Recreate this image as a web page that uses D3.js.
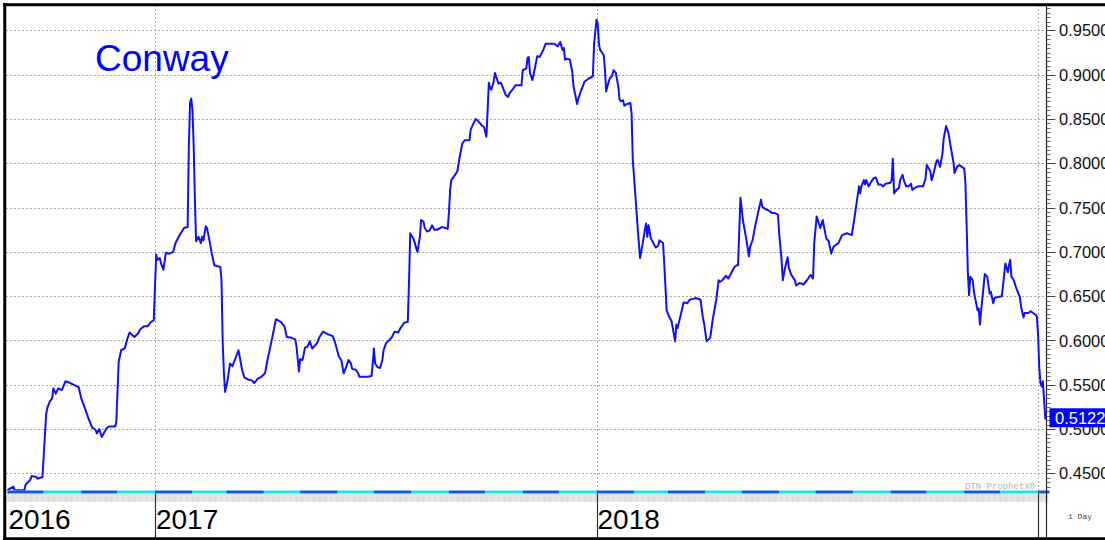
<!DOCTYPE html>
<html>
<head>
<meta charset="utf-8">
<script src="https://cdn.jsdelivr.net/npm/d3@7"></script>
<style>
  body { margin: 0; background: #fff; }
  svg { display: block; font-family: Arial, "Liberation Sans", sans-serif; }
</style>
</head>
<body>
<script>
// daily closes
var dates = [
  "2016-09-01","2016-09-06","2016-09-07","2016-09-15","2016-09-16","2016-09-20","2016-09-21","2016-09-25","2016-09-26","2016-09-30",
  "2016-10-03","2016-10-04","2016-10-06","2016-10-08","2016-10-09","2016-10-11","2016-10-13","2016-10-16","2016-10-19","2016-10-23",
  "2016-10-26","2016-10-30","2016-11-01","2016-11-04","2016-11-07","2016-11-10","2016-11-13","2016-11-14","2016-11-16","2016-11-18",
  "2016-11-22","2016-11-24","2016-11-29","2016-11-30","2016-12-02","2016-12-04","2016-12-07","2016-12-09","2016-12-11","2016-12-15",
  "2016-12-18","2016-12-20","2016-12-23","2016-12-26","2016-12-28","2016-12-31","2017-01-02","2017-01-03","2017-01-05","2017-01-06",
  "2017-01-08","2017-01-10","2017-01-13","2017-01-16","2017-01-18","2017-01-21","2017-01-25","2017-01-28","2017-01-29","2017-01-30",
  "2017-01-31","2017-02-01","2017-02-02","2017-02-03","2017-02-04","2017-02-06","2017-02-08","2017-02-09","2017-02-10","2017-02-12",
  "2017-02-13","2017-02-15","2017-02-17","2017-02-19","2017-02-24","2017-02-25","2017-02-26","2017-02-27","2017-02-28","2017-03-02",
  "2017-03-04","2017-03-06","2017-03-08","2017-03-11","2017-03-12","2017-03-14","2017-03-16","2017-03-19","2017-03-22","2017-03-24",
  "2017-03-27","2017-03-30","2017-04-02","2017-04-04","2017-04-07","2017-04-11","2017-04-15","2017-04-18","2017-04-20","2017-04-24",
  "2017-04-27","2017-04-28","2017-04-30","2017-05-01","2017-05-03","2017-05-05","2017-05-07","2017-05-09","2017-05-11","2017-05-15",
  "2017-05-17","2017-05-20","2017-05-24","2017-05-28","2017-05-30","2017-06-02","2017-06-04","2017-06-06","2017-06-08","2017-06-10",
  "2017-06-12","2017-06-13","2017-06-16","2017-06-18","2017-06-19","2017-06-22","2017-06-26","2017-06-29","2017-06-30","2017-07-01",
  "2017-07-02","2017-07-04","2017-07-06","2017-07-08","2017-07-09","2017-07-11","2017-07-14","2017-07-16","2017-07-18","2017-07-21",
  "2017-07-23","2017-07-26","2017-07-29","2017-07-30","2017-07-31","2017-08-03","2017-08-05","2017-08-06","2017-08-08","2017-08-09",
  "2017-08-11","2017-08-12","2017-08-14","2017-08-16","2017-08-18","2017-08-20","2017-08-22","2017-08-25","2017-08-26","2017-08-29",
  "2017-08-31","2017-09-01","2017-09-02","2017-09-03","2017-09-06","2017-09-08","2017-09-10","2017-09-12","2017-09-14","2017-09-16",
  "2017-09-18","2017-09-19","2017-09-22","2017-09-23","2017-09-25","2017-09-28","2017-09-30","2017-10-02","2017-10-03","2017-10-04",
  "2017-10-05","2017-10-06","2017-10-08","2017-10-09","2017-10-10","2017-10-12","2017-10-14","2017-10-16","2017-10-18","2017-10-20",
  "2017-10-21","2017-10-24","2017-10-26","2017-10-31","2017-11-01","2017-11-04","2017-11-05","2017-11-06","2017-11-07","2017-11-09",
  "2017-11-11","2017-11-13","2017-11-15","2017-11-18","2017-11-20","2017-11-24","2017-11-27","2017-11-30","2017-12-02","2017-12-04",
  "2017-12-05","2017-12-06","2017-12-08","2017-12-10","2017-12-12","2017-12-13","2017-12-16","2017-12-17","2017-12-19","2017-12-22",
  "2017-12-26","2017-12-29","2017-12-30","2018-01-01","2018-01-02","2018-01-03","2018-01-04","2018-01-07","2018-01-08","2018-01-09",
  "2018-01-10","2018-01-12","2018-01-14","2018-01-15","2018-01-17","2018-01-19","2018-01-20","2018-01-21","2018-01-23","2018-01-24",
  "2018-01-26","2018-01-29","2018-01-30","2018-01-31","2018-02-02","2018-02-04","2018-02-06","2018-02-08","2018-02-10","2018-02-11",
  "2018-02-12","2018-02-13","2018-02-15","2018-02-19","2018-02-21","2018-02-22","2018-02-25","2018-02-26","2018-02-28","2018-03-02",
  "2018-03-04","2018-03-07","2018-03-08","2018-03-09","2018-03-12","2018-03-14","2018-03-17","2018-03-19","2018-03-22","2018-03-24",
  "2018-03-28","2018-03-30","2018-03-31","2018-04-02","2018-04-05","2018-04-07","2018-04-10","2018-04-12","2018-04-13","2018-04-15",
  "2018-04-18","2018-04-20","2018-04-22","2018-04-25","2018-04-27","2018-04-28","2018-04-30","2018-05-01","2018-05-02","2018-05-05",
  "2018-05-07","2018-05-08","2018-05-10","2018-05-12","2018-05-15","2018-05-17","2018-05-18","2018-05-21","2018-05-23","2018-05-26",
  "2018-05-28","2018-05-31","2018-06-01","2018-06-03","2018-06-04","2018-06-06","2018-06-08","2018-06-09","2018-06-11","2018-06-14",
  "2018-06-15","2018-06-18","2018-06-21","2018-06-24","2018-06-27","2018-06-29","2018-06-30","2018-07-02","2018-07-05","2018-07-07",
  "2018-07-10","2018-07-12","2018-07-14","2018-07-16","2018-07-20","2018-07-23","2018-07-27","2018-07-31","2018-08-02","2018-08-04",
  "2018-08-06","2018-08-07","2018-08-08","2018-08-10","2018-08-11","2018-08-12","2018-08-14","2018-08-16","2018-08-18","2018-08-20",
  "2018-08-22","2018-08-24","2018-08-26","2018-08-28","2018-09-01","2018-09-02","2018-09-03","2018-09-04","2018-09-06","2018-09-08",
  "2018-09-09","2018-09-11","2018-09-12","2018-09-14","2018-09-16","2018-09-18","2018-09-19","2018-09-22","2018-09-24","2018-09-28",
  "2018-09-30","2018-10-01","2018-10-04","2018-10-05","2018-10-06","2018-10-09","2018-10-10","2018-10-12","2018-10-14","2018-10-15",
  "2018-10-17","2018-10-19","2018-10-21","2018-10-23","2018-10-24","2018-10-26","2018-10-28","2018-10-30","2018-11-01","2018-11-02",
  "2018-11-03","2018-11-04","2018-11-05","2018-11-06","2018-11-08","2018-11-09","2018-11-12","2018-11-13","2018-11-14","2018-11-15",
  "2018-11-17","2018-11-18","2018-11-20","2018-11-22","2018-11-23","2018-11-25","2018-11-26","2018-11-29","2018-12-02","2018-12-03",
  "2018-12-05","2018-12-07","2018-12-08","2018-12-09","2018-12-10","2018-12-12","2018-12-14","2018-12-17","2018-12-18","2018-12-20",
  "2018-12-21","2018-12-24","2018-12-26","2018-12-30","2018-12-31","2019-01-01","2019-01-02","2019-01-03","2019-01-04","2019-01-05",
  "2019-01-06","2019-01-07","2019-01-08"
];
var prices = [
  0.431,0.435,0.431,0.431,0.437,0.443,0.447,0.446,0.444,0.446,
  0.516,0.524,0.531,0.535,0.546,0.540,0.546,0.544,0.554,0.552,
  0.550,0.547,0.535,0.524,0.512,0.502,0.499,0.495,0.500,0.491,
  0.501,0.503,0.503,0.507,0.576,0.589,0.591,0.601,0.609,0.604,
  0.608,0.613,0.616,0.616,0.620,0.623,0.697,0.691,0.693,0.687,
  0.680,0.699,0.698,0.700,0.710,0.718,0.727,0.728,0.819,0.868,
  0.873,0.860,0.819,0.759,0.712,0.717,0.710,0.717,0.713,0.729,
  0.727,0.713,0.698,0.685,0.683,0.668,0.597,0.563,0.542,0.555,
  0.574,0.571,0.578,0.589,0.582,0.567,0.558,0.556,0.555,0.552,
  0.557,0.559,0.563,0.578,0.597,0.624,0.621,0.616,0.604,0.603,
  0.601,0.593,0.565,0.579,0.578,0.592,0.593,0.599,0.591,0.597,
  0.604,0.610,0.607,0.605,0.597,0.582,0.578,0.563,0.570,0.578,
  0.574,0.568,0.567,0.563,0.559,0.559,0.559,0.560,0.574,0.591,
  0.574,0.570,0.569,0.578,0.589,0.597,0.601,0.604,0.610,0.609,
  0.614,0.620,0.621,0.665,0.721,0.714,0.704,0.700,0.717,0.736,
  0.734,0.727,0.723,0.724,0.730,0.725,0.725,0.727,0.728,0.727,
  0.726,0.744,0.770,0.781,0.787,0.791,0.808,0.822,0.826,0.826,
  0.826,0.838,0.847,0.850,0.848,0.843,0.841,0.830,0.860,0.891,
  0.885,0.883,0.892,0.902,0.898,0.890,0.891,0.884,0.877,0.875,
  0.879,0.884,0.888,0.888,0.905,0.907,0.919,0.920,0.902,0.894,
  0.907,0.921,0.920,0.928,0.935,0.935,0.935,0.932,0.937,0.928,
  0.930,0.917,0.918,0.917,0.903,0.887,0.867,0.873,0.881,0.892,
  0.896,0.898,0.935,0.962,0.958,0.935,0.928,0.922,0.905,0.881,
  0.887,0.896,0.899,0.905,0.902,0.887,0.872,0.870,0.871,0.865,
  0.867,0.868,0.856,0.804,0.766,0.728,0.693,0.708,0.725,0.732,
  0.717,0.730,0.715,0.705,0.707,0.713,0.710,0.687,0.634,0.627,
  0.622,0.599,0.618,0.614,0.631,0.643,0.642,0.646,0.647,0.648,
  0.646,0.625,0.619,0.599,0.603,0.623,0.646,0.668,0.666,0.668,
  0.673,0.670,0.675,0.683,0.685,0.685,0.761,0.749,0.736,0.713,
  0.695,0.706,0.713,0.728,0.747,0.759,0.751,0.748,0.747,0.744,
  0.744,0.742,0.721,0.691,0.668,0.683,0.694,0.682,0.674,0.668,
  0.662,0.665,0.663,0.668,0.674,0.670,0.710,0.740,0.727,0.736,
  0.715,0.712,0.698,0.706,0.710,0.719,0.721,0.719,0.736,0.755,
  0.774,0.766,0.774,0.781,0.776,0.781,0.774,0.779,0.783,0.784,
  0.776,0.776,0.774,0.777,0.778,0.781,0.805,0.766,0.770,0.772,
  0.781,0.787,0.781,0.774,0.774,0.777,0.770,0.773,0.774,0.774,
  0.783,0.798,0.791,0.781,0.785,0.802,0.804,0.796,0.811,0.828,
  0.842,0.834,0.817,0.802,0.789,0.796,0.798,0.796,0.794,0.777,
  0.728,0.676,0.651,0.672,0.668,0.655,0.634,0.636,0.618,0.634,
  0.661,0.675,0.672,0.653,0.655,0.642,0.648,0.649,0.650,0.661,
  0.687,0.677,0.685,0.691,0.672,0.668,0.659,0.649,0.638,0.626,
  0.631,0.631,0.633,0.629,0.627,0.608,0.570,0.552,0.548,0.554,
  0.533,0.512,0.5122
];

// right axis ticks
var yTicks = [0.45, 0.50, 0.55, 0.60, 0.65, 0.70, 0.75, 0.80, 0.85, 0.90, 0.95];

// bottom axis: year labels and where they start
var yearStarts = ["2016-09-01", "2017-01-01", "2018-01-01"];
var yearLabels = ["2016", "2017", "2018"];
var yearLines = ["2017-01-01", "2018-01-01", "2019-01-01"];

var title = "Conway";
var periodLabel = "1 Day";
var watermark = "DTN ProphetX\u00ae";

function drawChart() {
    var width = 1105, height = 540;
    var plotTop = 5, plotRight = 1046.5, stripY = 490.5;

    var parseDate = d3.timeParse("%Y-%m-%d");
    var data = dates.map(function(d, i) {
        return { date: parseDate(d), close: prices[i] };
    });

    // time scale: data starts 1 Sep 2016, ends 8 Jan 2019
    var x = d3.scaleTime()
        .domain([parseDate("2016-09-01"), parseDate("2019-01-08")])
        .range([7.4, plotRight]);
    var y = d3.scaleLinear()
        .domain([0.45, 0.95])
        .range([473.4, 30.4]);

    var svg = d3.select("body").append("svg")
        .attr("width", width)
        .attr("height", height);

    svg.append("rect").attr("width", width).attr("height", height).attr("fill", "#fff");

    svg.append("clipPath").attr("id", "plotClip")
        .append("rect")
        .attr("x", 6).attr("y", plotTop)
        .attr("width", plotRight - 6).attr("height", stripY - plotTop);

    // horizontal dotted grid
    svg.append("g").selectAll("line")
        .data(yTicks)
        .enter().append("line")
        .attr("x1", 6).attr("x2", plotRight)
        .attr("y1", function(d) { return Math.round(y(d)) + 0.5; })
        .attr("y2", function(d) { return Math.round(y(d)) + 0.5; })
        .attr("stroke", "#a8a8a8")
        .attr("stroke-dasharray", "2,2");

    // vertical dotted grid at year starts
    svg.append("g").selectAll("line")
        .data(yearLines)
        .enter().append("line")
        .attr("x1", function(d) { return Math.round(x(parseDate(d))) + 0.5; })
        .attr("x2", function(d) { return Math.round(x(parseDate(d))) + 0.5; })
        .attr("y1", plotTop).attr("y2", stripY)
        .attr("stroke", "#a8a8a8")
        .attr("stroke-dasharray", "2,2");

    // title
    svg.append("text")
        .attr("x", 95).attr("y", 71)
        .attr("font-size", 37)
        .attr("fill", "#0000ff")
        .text(title);

    // watermark
    svg.append("text")
        .attr("x", 965).attr("y", 489)
        .attr("font-family", "'Liberation Mono', 'DejaVu Sans Mono', monospace")
        .attr("font-size", 9)
        .attr("fill", "#b4b4b4")
        .text(watermark);

    // price line
    var valueline = d3.line()
        .x(function(d) { return x(d.date); })
        .y(function(d) { return y(d.close); });

    svg.append("path")
        .datum(data)
        .attr("clip-path", "url(#plotClip)")
        .attr("fill", "none")
        .attr("stroke", "#1010ff")
        .attr("stroke-width", 2)
        .attr("stroke-linejoin", "round")
        .attr("d", valueline);

    // month strip, blue and cyan alternating
    var months = d3.timeMonth.range(parseDate("2016-09-01"), parseDate("2019-02-01"));
    svg.append("g").selectAll("rect")
        .data(months)
        .enter().append("rect")
        .attr("x", function(d) { return x(d); })
        .attr("y", stripY)
        .attr("width", function(d) { return Math.max(0, Math.min(x(d3.timeMonth.offset(d, 1)), plotRight + 3) - x(d)); })
        .attr("height", 3)
        .attr("fill", function(d, i) { return i % 2 === 0 ? "#1858d4" : "#1ee4e4"; });

    // day hatch under the strip
    var days = d3.timeDay.range(parseDate("2016-09-01"), parseDate("2019-01-10"));
    svg.append("g").selectAll("line")
        .data(days)
        .enter().append("line")
        .attr("x1", function(d) { return x(d); })
        .attr("x2", function(d) { return x(d); })
        .attr("y1", 494).attr("y2", 502)
        .attr("stroke", "#c4c4c4")
        .attr("stroke-width", 0.6);

    // year separators in the date panel
    svg.append("g").selectAll("line")
        .data(yearLines)
        .enter().append("line")
        .attr("x1", function(d) { return Math.round(x(parseDate(d))) + 0.5; })
        .attr("x2", function(d) { return Math.round(x(parseDate(d))) + 0.5; })
        .attr("y1", 493.5).attr("y2", 538)
        .attr("stroke", "#333")
        .attr("stroke-width", 1.2);

    // year labels
    svg.append("g").selectAll("text")
        .data(yearLabels)
        .enter().append("text")
        .attr("x", function(d, i) { return x(parseDate(yearStarts[i])) + 1; })
        .attr("y", 528.5)
        .attr("font-size", 28)
        .attr("fill", "#000")
        .text(function(d) { return d; });

    // right axis line
    svg.append("line")
        .attr("x1", plotRight).attr("x2", plotRight)
        .attr("y1", plotTop).attr("y2", 538)
        .attr("stroke", "#222")
        .attr("stroke-width", 1.2);

    // minor ticks every 0.005
    var minor = d3.range(86, 196).map(function(k) { return k * 0.005; })
        .filter(function(v) { return y(v) > plotTop + 2 && y(v) < stripY - 1; });
    svg.append("g").selectAll("line")
        .data(minor)
        .enter().append("line")
        .attr("x1", plotRight).attr("x2", plotRight + 4)
        .attr("y1", function(d) { return Math.round(y(d)) + 0.5; })
        .attr("y2", function(d) { return Math.round(y(d)) + 0.5; })
        .attr("stroke", "#666");

    // major ticks and labels
    var axis = svg.append("g");
    axis.selectAll("line")
        .data(yTicks)
        .enter().append("line")
        .attr("x1", plotRight).attr("x2", plotRight + 9)
        .attr("y1", function(d) { return Math.round(y(d)) + 0.5; })
        .attr("y2", function(d) { return Math.round(y(d)) + 0.5; })
        .attr("stroke", "#444");
    axis.selectAll("text")
        .data(yTicks)
        .enter().append("text")
        .attr("x", 1059)
        .attr("y", function(d) { return y(d) + 6; })
        .attr("font-size", 16.5)
        .attr("fill", "#111")
        .text(function(d) { return d3.format(".4f")(d); });

    // last value tag
    var last = prices[prices.length - 1];
    svg.append("rect")
        .attr("x", 1049.5).attr("y", y(last) - 10)
        .attr("width", 60).attr("height", 19)
        .attr("fill", "#0000ff");
    svg.append("text")
        .attr("x", 1055).attr("y", y(last) + 6)
        .attr("font-size", 16.5)
        .attr("fill", "#fff")
        .text(d3.format(".4f")(last));

    // period label
    svg.append("text")
        .attr("x", 1068).attr("y", 519)
        .attr("font-family", "'Liberation Mono', 'DejaVu Sans Mono', monospace")
        .attr("font-size", 8)
        .attr("fill", "#444")
        .text(periodLabel);

    // frame
    svg.append("line").attr("x1", 4.75).attr("x2", 4.75).attr("y1", 3).attr("y2", 540)
        .attr("stroke", "#000").attr("stroke-width", 3);
    svg.append("line").attr("x1", 3).attr("x2", width).attr("y1", 4.75).attr("y2", 4.75)
        .attr("stroke", "#000").attr("stroke-width", 3);
    svg.append("line").attr("x1", 3).attr("x2", width).attr("y1", 538.75).attr("y2", 538.75)
        .attr("stroke", "#000").attr("stroke-width", 3);
}

drawChart();
</script>
</body>
</html>
